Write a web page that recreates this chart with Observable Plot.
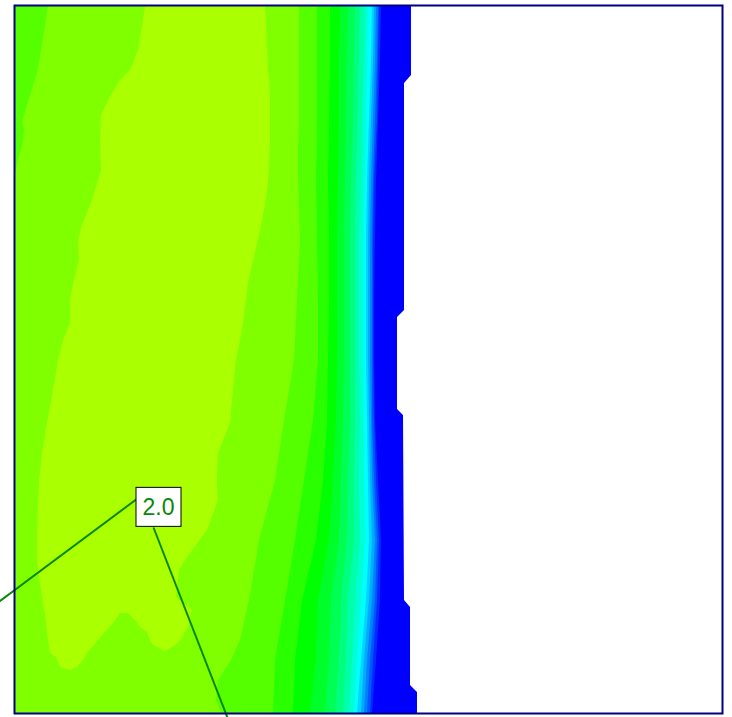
<!DOCTYPE html>
<html>
<head>
<meta charset="utf-8">
<script src="https://cdn.jsdelivr.net/npm/d3@7"></script>
<script src="https://cdn.jsdelivr.net/npm/@observablehq/plot@0.6"></script>
<style>
  html, body { margin: 0; padding: 0; background: #fff; }
  #chart svg { display: block; }
</style>
</head>
<body>
<div id="chart"></div>
<script>
// Lower bound of each filled band of the field (17 bands, step 0.125)
const levels = [0, 0.125, 0.25, 0.375, 0.5, 0.625, 0.75, 0.875, 1.0,
                1.125, 1.25, 1.375, 1.5, 1.625, 1.75, 1.875, 2.0];
const bandColors = ["#0000ff", "#002aff", "#0055ff", "#007fff", "#00aaff", "#00d4ff",
                    "#00ffff", "#00ffd4", "#00ffaa", "#00ff7f", "#00ff55", "#00ff2a",
                    "#00ff00", "#2aff00", "#55ff00", "#7fff00", "#aaff00"];

// Depth of the sampled rows (0 = top of the section, 708 = bottom)
const depthRows = [0, 55, 115, 175, 235, 295, 355, 415, 475, 535, 595, 655, 708];

// Position of each isoline 0.125 … 1.75 on the sampled rows (value rises to the left)
const iso0125 = [367, 366, 364, 362, 361, 360, 360, 361, 364, 367, 366, 362, 358];
const iso0250 = [365, 364, 363, 360, 359, 359, 359, 360, 362, 365, 363, 359, 356];
const iso0375 = [364, 363, 361, 359, 358, 358, 358, 358, 360, 363, 361, 356, 353];
const iso0500 = [362, 361, 359, 357, 356, 356, 356, 357, 358, 361, 358, 353, 350];
const iso0625 = [360, 359, 357, 355, 354, 354, 354, 355, 356, 358, 355, 350, 347];
const iso0750 = [358, 357, 355, 353, 352, 352, 352, 353, 354, 355, 352, 347, 343];
const iso0875 = [354, 353, 352, 351, 349, 349, 349, 350, 350, 351, 347, 343, 340];
const iso1000 = [351, 350, 348, 347, 345, 345, 345, 346, 345, 346, 341, 338, 335];
const iso1125 = [346, 345, 344, 342, 341, 341, 341, 341, 340, 340, 334, 332, 329];
const iso1250 = [341, 340, 339, 337, 336, 336, 336, 336, 334, 333, 327, 325, 321];
const iso1375 = [334, 333, 332, 331, 330, 330, 330, 329, 327, 325, 317, 315, 311];
const iso1500 = [326, 325, 325, 324, 323, 323, 323, 322, 319, 315, 304, 302, 296];
const iso1625 = [316, 316, 315, 314, 315, 315, 314, 313, 309, 302, 288, 281, 279];
const iso1750 = [303, 303, 303, 302, 303, 304, 304, 299, 290, 281, 271, 261, 259];
const isoLines = [iso0125, iso0250, iso0375, iso0500, iso0625, iso0750, iso0875,
                  iso1000, iso1125, iso1250, iso1375, iso1500, iso1625, iso1750];

// Outer edge of the meshed domain (stepped right boundary)
const edgeDepth = [0, 70, 78, 305, 312, 404, 410, 595, 602, 680, 687, 708];
const edgeX     = [397, 397, 390, 390, 383, 383, 389, 390, 396, 396, 403, 403];

// Isoline 1.875: left branch (top-left corner) and right branch
const iso1875Depth = [0, 33, 67, 100, 117, 125, 140, 155, 173, 235, 295, 355, 415,
                      475, 535, 595, 635, 655, 675, 695, 708];
const iso1875Left  = [34, 29, 23, 13, 8, 10, 8, 4, 0, 0, 0, 0, 0,
                      0, 0, 0, 0, 0, 0, 0, 0];
const iso1875Right = [285, 285, 285, 285, 285, 285, 284, 284, 284, 286, 283, 280, 270,
                      261, 245, 235, 226, 217, 204, 202, 207];

// Isoline 2.0: closed region, main body plus two lobes at its lower end
const iso2Depth = [0, 15, 45, 65, 75, 95, 110, 135, 165, 195, 220, 235, 255, 278, 295,
                   318, 335, 355, 385, 418, 448, 475, 495, 525, 552, 565, 592, 605, 608];
const iso2Left  = [131, 129, 124, 116, 106, 94, 87, 86, 87, 78, 68, 64, 65, 59, 56,
                   56, 49, 44, 39, 33, 28, 25, 24, 23, 23, 24, 28, 30, 31];
const iso2Right = [251, 252, 253, 254, 255, 256, 256, 256, 255, 252, 247, 244, 239, 234, 232,
                   229, 226, 222, 219, 216, 204, 203, 204, 193, 173, 165, 162, 178, 177];
const iso2LobeADepth = [608, 618, 635, 648, 652, 662, 665];
const iso2LobeALeft  = [31, 32, 34, 36, 42, 46, 56];
const iso2LobeARight = [106, 99, 84, 73, 71, 63, 56];
const iso2LobeBDepth = [608, 615, 622, 627, 635, 640, 646];
const iso2LobeBLeft  = [114, 121, 126, 133, 136, 139, 151];
const iso2LobeBRight = [177, 176, 174, 171, 166, 161, 151];

// Contour label and its leader lines
const labelText = "2.0";
const labelX = 144, labelY = 502;
const leaderX1 = [123, 139], leaderY1 = [493, 522];
const leaderX2 = [-34, 218], leaderY2 = [610, 725];

// Build the band table (painted from the lowest level upwards)
const bands = [];
edgeDepth.forEach((y, i) =>
  bands.push({part: "domain", level: levels[0], y, x1: 0, x2: edgeX[i]}));
isoLines.forEach((xs, k) => xs.forEach((x, i) =>
  bands.push({part: "iso" + (k + 1), level: levels[k + 1], y: depthRows[i], x1: 0, x2: x})));
iso1875Depth.forEach((y, i) =>
  bands.push({part: "iso15", level: levels[15], y, x1: iso1875Left[i], x2: iso1875Right[i]}));
iso2Depth.forEach((y, i) =>
  bands.push({part: "iso16", level: levels[16], y, x1: iso2Left[i], x2: iso2Right[i]}));
iso2LobeADepth.forEach((y, i) =>
  bands.push({part: "iso16a", level: levels[16], y, x1: iso2LobeALeft[i], x2: iso2LobeARight[i]}));
iso2LobeBDepth.forEach((y, i) =>
  bands.push({part: "iso16b", level: levels[16], y, x1: iso2LobeBLeft[i], x2: iso2LobeBRight[i]}));

const leaders = leaderX1.map((x1, i) => ({x1, y1: leaderY1[i], x2: leaderX2[i], y2: leaderY2[i]}));

const labelGreen = "#0a870a";

const chart = Plot.plot({
  width: 732,
  height: 717,
  marginLeft: 14,
  marginRight: 10,
  marginTop: 5,
  marginBottom: 4,
  x: {domain: [0, 708], axis: null},
  y: {domain: [0, 708], reverse: true, axis: null},
  color: {type: "ordinal", domain: levels, range: bandColors},
  marks: [
    Plot.areaX(bands, {y: "y", x1: "x1", x2: "x2", z: "part", fill: "level", curve: "linear"}),
    Plot.link(leaders, {x1: "x1", y1: "y1", x2: "x2", y2: "y2", stroke: labelGreen, strokeWidth: 2}),
    Plot.text([{x: labelX, y: labelY, text: labelText}], {
      x: "x", y: "y", text: "text", fill: labelGreen, fontSize: 23,
      fontFamily: "'Liberation Sans', Arial, sans-serif", textAnchor: "middle"
    }),
    Plot.frame({stroke: "#000080", strokeWidth: 2})
  ]
});

document.getElementById("chart").appendChild(chart);

// White boxed background behind the contour label (shares the text's own transform)
const labelNode = chart.querySelector('g[aria-label="text"] text');
if (labelNode) {
  const b = labelNode.getBBox();
  const w = 45, h = 39;
  const cx = b.x + b.width / 2, cy = b.y + b.height / 2;
  const rect = document.createElementNS("http://www.w3.org/2000/svg", "rect");
  rect.setAttribute("x", cx - w / 2);
  rect.setAttribute("y", cy - h / 2);
  rect.setAttribute("width", w);
  rect.setAttribute("height", h);
  rect.setAttribute("fill", "#fff");
  rect.setAttribute("stroke", "#000");
  rect.setAttribute("stroke-width", 1);
  const tf = labelNode.getAttribute("transform");
  if (tf) rect.setAttribute("transform", tf);
  labelNode.parentNode.insertBefore(rect, labelNode);
}
</script>
</body>
</html>
